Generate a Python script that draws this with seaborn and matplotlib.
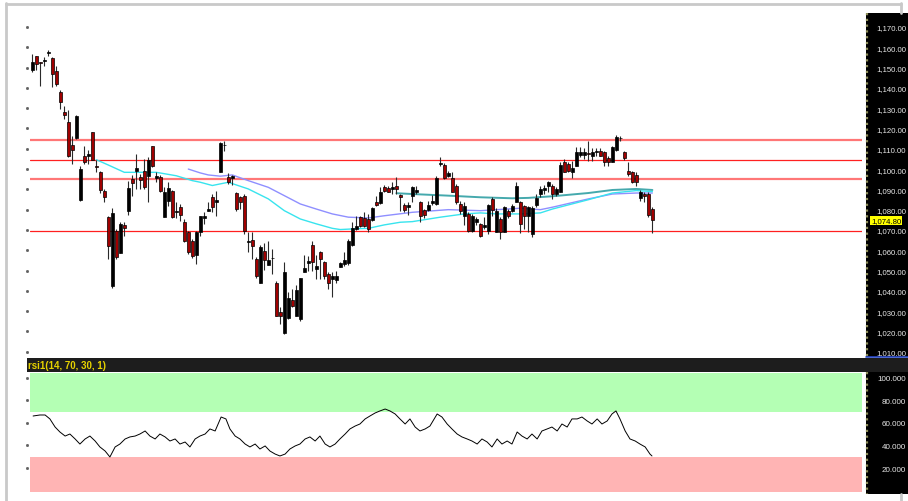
import numpy as np
import matplotlib
matplotlib.use('Agg')
import matplotlib.pyplot as plt
import seaborn as sns
from matplotlib.patches import Rectangle
from matplotlib.lines import Line2D
import matplotlib.transforms as mtransforms

opens = [
1149.0, 1155.6, 1152.6, 1153.3, 1157.2, 1154.7, 1148.5, 1137.8, 1128.3, 1123.4,
1111.9, 1115.2, 1085.0, 1106.3, 1106.6, 1118.1, 1101.7, 1098.4, 1089.4, 1076.3,
1042.6, 1069.7, 1058.7, 1072.2, 1079.5, 1095.1, 1099.1, 1096.0, 1098.9, 1096.5,
1111.2, 1095.5, 1096.0, 1076.3, 1084.5, 1089.4, 1078.7, 1081.2, 1074.1, 1069.2,
1064.8, 1057.7, 1069.2, 1075.8, 1079.2, 1086.1, 1083.9, 1098.7, 1111.7, 1096.0,
1095.5, 1088.2, 1086.1, 1086.6, 1063.9, 1065.2, 1055.7, 1043.9, 1059.8, 1052.7,
1056.1, 1043.9, 1029.7, 1019.2, 1026.5, 1035.7, 1027.8, 1026.1, 1049.4, 1053.7,
1062.6, 1050.8, 1059.3, 1054.4, 1048.3, 1045.8, 1045.5, 1051.6, 1053.2, 1053.7,
1062.6, 1070.5, 1076.2, 1075.7, 1075.4, 1075.1, 1083.9, 1083.3, 1091.0, 1090.5,
1090.2, 1091.5, 1087.2, 1082.3, 1081.1, 1086.9, 1088.5, 1083.9, 1080.0, 1080.0,
1083.3, 1082.8, 1102.4, 1102.0, 1096.4, 1095.4, 1091.8, 1082.8, 1077.1, 1077.9,
1069.7, 1073.8, 1073.0, 1071.3, 1069.7, 1085.3, 1069.2, 1075.4, 1069.2, 1079.1,
1079.5, 1084.0, 1084.0, 1081.7, 1077.1, 1068.1, 1082.3, 1087.8, 1089.9, 1091.9,
1091.9, 1087.8, 1088.9, 1103.7, 1102.5, 1098.8, 1101.7, 1107.0, 1107.0, 1107.6,
1106.6, 1108.6, 1109.1, 1108.3, 1105.3, 1103.7, 1109.6, 1115.1, 1108.6, 1099.2,
1098.4, 1097.1, 1085.6, 1087.7, 1087.7, 1080.4]

closes = [
1152.9, 1151.8, 1152.3, 1153.6, 1157.7, 1146.9, 1141.9, 1132.9, 1126.7, 1106.6,
1109.6, 1126.3, 1100.1, 1103.3, 1107.4, 1104.7, 1101.2, 1089.7, 1086.1, 1062.0,
1078.4, 1056.5, 1073.0, 1071.0, 1090.5, 1093.2, 1100.4, 1094.6, 1091.4, 1104.7,
1101.7, 1096.5, 1089.4, 1088.6, 1090.9, 1076.3, 1079.5, 1077.4, 1064.8, 1059.0,
1057.4, 1069.2, 1076.7, 1077.1, 1080.4, 1081.2, 1084.7, 1112.9, 1112.1, 1093.5,
1096.8, 1080.4, 1083.6, 1069.6, 1064.7, 1061.9, 1047.1, 1061.4, 1055.4, 1055.4,
1056.0, 1027.8, 1027.8, 1049.4, 1036.3, 1032.7, 1040.6, 1046.2, 1051.1, 1054.9,
1054.4, 1052.1, 1055.7, 1047.5, 1043.9, 1047.1, 1047.1, 1053.7, 1055.4, 1064.7,
1070.8, 1071.8, 1071.8, 1071.8, 1070.5, 1080.6, 1082.3, 1088.5, 1089.3, 1088.9,
1091.0, 1090.2, 1086.1, 1080.0, 1082.3, 1091.0, 1089.8, 1076.7, 1077.4, 1082.3,
1084.4, 1095.4, 1102.6, 1095.4, 1098.1, 1088.9, 1083.9, 1079.1, 1081.7, 1069.7,
1077.1, 1075.4, 1066.9, 1072.5, 1082.3, 1080.0, 1079.5, 1069.2, 1081.2, 1077.1,
1081.7, 1091.9, 1073.0, 1077.1, 1081.2, 1080.7, 1085.6, 1090.2, 1090.5, 1093.5,
1087.8, 1090.2, 1102.0, 1098.8, 1099.2, 1100.4, 1108.3, 1108.3, 1108.3, 1107.5,
1108.3, 1108.7, 1106.6, 1103.7, 1103.7, 1110.7, 1115.7, 1115.2, 1105.3, 1097.6,
1093.5, 1093.5, 1088.9, 1086.9, 1077.4, 1074.8]

highs = [
1156.7, 1155.9, 1152.9, 1155.1, 1158.8, 1155.1, 1151.0, 1139.1, 1131.3, 1129.3,
1116.5, 1126.7, 1101.7, 1111.2, 1109.4, 1118.5, 1104.7, 1099.2, 1090.2, 1077.1,
1080.7, 1070.5, 1073.8, 1074.1, 1094.3, 1097.1, 1107.4, 1097.6, 1105.0, 1105.8,
1111.6, 1098.4, 1097.1, 1091.0, 1093.8, 1089.9, 1084.0, 1082.8, 1075.4, 1069.7,
1065.6, 1069.7, 1077.1, 1079.0, 1083.6, 1087.7, 1089.4, 1113.2, 1114.0, 1097.9,
1097.1, 1088.6, 1086.9, 1087.7, 1068.8, 1069.2, 1056.5, 1062.6, 1063.6, 1064.7,
1060.6, 1045.0, 1031.9, 1054.0, 1039.3, 1040.9, 1042.9, 1046.2, 1057.7, 1057.3,
1064.7, 1057.7, 1059.8, 1054.9, 1049.1, 1049.1, 1050.0, 1054.4, 1059.0, 1065.5,
1074.1, 1076.7, 1077.0, 1078.7, 1077.9, 1081.1, 1086.9, 1091.0, 1092.1, 1091.8,
1093.8, 1095.9, 1087.7, 1083.3, 1083.6, 1091.8, 1091.8, 1084.4, 1080.3, 1084.4,
1087.2, 1096.7, 1105.8, 1103.0, 1099.2, 1098.4, 1092.6, 1084.5, 1083.7, 1078.7,
1077.9, 1076.3, 1073.5, 1076.3, 1082.8, 1086.1, 1080.7, 1076.3, 1081.7, 1080.4,
1082.8, 1093.8, 1084.5, 1082.3, 1081.7, 1081.7, 1087.8, 1091.9, 1092.2, 1094.3,
1092.7, 1091.0, 1103.4, 1105.0, 1103.7, 1104.2, 1110.7, 1110.7, 1110.3, 1114.0,
1110.3, 1110.3, 1110.3, 1109.1, 1106.3, 1111.6, 1116.8, 1116.2, 1109.1, 1103.7,
1099.2, 1098.8, 1089.9, 1088.9, 1088.6, 1081.2]

lows = [
1147.7, 1149.0, 1140.8, 1151.0, 1155.6, 1140.3, 1141.1, 1129.6, 1124.7, 1105.8,
1102.5, 1114.8, 1084.5, 1102.5, 1102.5, 1104.7, 1098.4, 1088.1, 1084.0, 1055.7,
1041.3, 1055.7, 1058.7, 1067.2, 1077.4, 1086.9, 1090.2, 1090.2, 1090.2, 1083.6,
1100.9, 1093.5, 1088.6, 1076.3, 1082.0, 1075.8, 1075.8, 1074.6, 1064.3, 1058.2,
1056.1, 1053.3, 1067.2, 1073.0, 1079.2, 1078.7, 1077.1, 1098.4, 1109.1, 1092.7,
1092.2, 1079.5, 1080.4, 1068.0, 1059.0, 1055.7, 1046.2, 1043.9, 1050.4, 1052.7,
1048.3, 1027.8, 1023.7, 1018.7, 1026.1, 1031.9, 1027.4, 1025.3, 1049.4, 1050.0,
1050.0, 1045.8, 1045.8, 1045.8, 1040.9, 1036.8, 1043.9, 1051.6, 1052.4, 1052.7,
1062.3, 1070.1, 1071.3, 1071.3, 1068.8, 1074.6, 1082.0, 1082.8, 1088.9, 1088.5,
1087.7, 1087.7, 1079.5, 1078.7, 1077.4, 1083.6, 1087.7, 1074.1, 1075.7, 1079.5,
1082.3, 1082.3, 1101.7, 1095.1, 1095.9, 1088.5, 1082.8, 1077.9, 1072.2, 1069.2,
1069.2, 1072.2, 1066.4, 1070.5, 1068.1, 1077.1, 1068.9, 1065.3, 1068.9, 1075.8,
1078.7, 1083.7, 1068.5, 1070.5, 1069.2, 1066.4, 1081.2, 1086.1, 1087.8, 1088.6,
1085.3, 1086.9, 1088.6, 1098.4, 1098.8, 1095.5, 1101.4, 1105.8, 1105.0, 1104.2,
1104.2, 1106.6, 1106.3, 1101.7, 1101.4, 1103.4, 1109.1, 1114.0, 1104.7, 1096.8,
1093.2, 1091.9, 1084.5, 1084.0, 1076.3, 1068.5]

# moving averages (bar index, value)
cyan_idx = [16, 19, 23, 27, 31, 36, 40, 42, 45, 49, 54, 59, 63, 67, 71, 75, 77, 80, 84, 88, 92, 95, 102, 108, 112, 116, 122, 127, 130, 139, 145, 151, 155]
cyan_val = [1104.6, 1102.0, 1098.4, 1098.4, 1098.4, 1096.7, 1094.3, 1093.5, 1091.9, 1093.5, 1090.2, 1085.3, 1079.5, 1075.4, 1073.0, 1070.8, 1070.2, 1070.5, 1070.8, 1072.5, 1073.8, 1074.1, 1076.3, 1077.9, 1078.4, 1077.9, 1077.9, 1078.4, 1080.3, 1084.9, 1088.2, 1089.4, 1088.9]
blue_idx = [39, 42, 44, 47, 50, 54, 59, 63, 67, 71, 75, 79, 84, 88, 95, 104, 112, 122, 127, 130, 139, 145, 151, 155]
blue_val = [1100.0, 1098.1, 1097.1, 1096.5, 1097.1, 1094.3, 1091.0, 1086.9, 1082.8, 1080.3, 1077.9, 1076.3, 1075.9, 1077.0, 1078.7, 1080.0, 1079.5, 1080.7, 1080.0, 1081.2, 1085.3, 1087.7, 1088.2, 1088.2]
teal_idx = [91, 95, 104, 112, 120, 124, 130, 139, 145, 151, 155]
teal_val = [1088.1, 1087.7, 1086.9, 1086.1, 1085.6, 1085.8, 1086.6, 1088.2, 1089.7, 1090.2, 1089.7]

# horizontal levels
levels_light = [1114.3, 1095.1]
levels_solid = [1104.3, 1069.4]
last_price = 1074.80

price_ticks = list(range(1010, 1171, 10))
rsi_ticks = [20, 40, 60, 80, 100]
rsi_title = "rsi1(14, 70, 30, 1)"

rsi_idx = [0.2, 1.9, 3.2, 4.4, 5.7, 6.9, 8.2, 9.4, 10.7, 11.9, 13.2, 14.4, 15.7, 16.9, 18.2, 19.4, 20.7, 21.9, 23.2, 24.4,
           25.7, 26.9, 28.2, 29.4, 30.7, 31.9, 33.2, 34.4, 35.7, 36.9, 38.2, 39.4, 40.7, 41.9, 43.2, 44.4, 45.7, 47.2, 48.4, 49.4,
           50.7, 51.9, 53.2, 54.4, 55.7, 56.9, 58.2, 59.4, 60.7, 61.9, 63.2, 64.4, 65.7, 66.9, 68.2, 69.4, 70.7, 71.9, 73.2, 74.4,
           75.7, 76.9, 78.2, 79.4, 80.7, 81.9, 83.2, 84.4, 85.7, 86.9, 88.2, 89.4, 90.7, 91.9, 93.2, 94.4, 95.7, 96.9, 98.2, 99.4,
           101.2, 102.4, 103.7, 104.9, 106.2, 107.4, 108.7, 109.9, 111.2, 112.4, 113.7, 114.9, 116.2, 117.4, 118.7, 119.9, 121.2, 122.4, 123.7, 124.9,
           126.2, 127.4, 128.7, 129.9, 131.2, 132.4, 133.7, 134.9, 136.2, 137.4, 138.7, 139.9, 141.2, 142.4, 143.7, 144.9, 145.9, 146.9, 148.2, 149.4,
           150.7, 151.9, 153.2, 154.4, 154.9]
rsi_val = [66.2, 67.1, 67.1, 63.6, 56.4, 52.0, 48.4, 50.2, 45.8, 41.3, 45.8, 48.4, 44.0, 38.7, 35.1, 29.8, 38.7, 41.3, 45.8, 47.6,
           48.4, 50.2, 52.9, 48.4, 45.8, 50.2, 47.6, 44.0, 45.8, 41.3, 43.1, 38.7, 45.8, 48.4, 50.2, 54.7, 52.9, 65.3, 63.6, 54.7,
           48.4, 45.8, 41.3, 38.7, 41.3, 36.9, 39.6, 35.1, 32.4, 30.7, 32.4, 36.9, 39.6, 41.3, 45.8, 47.6, 44.0, 48.4, 41.3, 38.7,
           41.3, 45.8, 50.2, 54.7, 57.3, 59.1, 63.6, 66.2, 68.9, 70.7, 72.4, 70.7, 68.0, 63.6, 59.1, 63.6, 56.4, 52.9, 54.7, 57.3,
           68.0, 65.3, 59.1, 54.7, 50.2, 47.6, 45.8, 44.0, 41.3, 45.8, 43.1, 38.7, 45.8, 41.3, 44.0, 41.3, 52.0, 48.4, 45.8, 50.2,
           45.8, 52.9, 54.7, 56.4, 52.9, 59.1, 56.4, 63.6, 63.6, 65.3, 61.8, 59.1, 63.6, 59.1, 61.8, 68.0, 70.7, 63.6, 52.9, 45.8,
           44.0, 41.3, 38.7, 32.4, 30.7]

# ---------------------------------------------------------------------------
sns.set_style('white')
plt.rcParams['font.family'] = ['Liberation Sans', 'DejaVu Sans']

W, H = 908, 502
fig = plt.figure(figsize=(W / 100, H / 100), dpi=100)
fig.patch.set_facecolor('white')


def fx(px):
    return px / W


def fy(py):
    return 1 - py / H


def frect(x0, y0, x1, y1, color, z=-5):
    fig.add_artist(Rectangle((fx(x0), fy(y1)), fx(x1) - fx(x0), fy(y0) - fy(y1),
                             transform=fig.transFigure, facecolor=color, edgecolor='none', zorder=z))


def fline(x0, y0, x1, y1, color, lw, **kw):
    fig.add_artist(Line2D([fx(x0), fx(x1)], [fy(y0), fy(y1)], transform=fig.transFigure,
                          color=color, lw=lw, **kw))


# outer frame
fline(6, 4, 6, 502, '#c9c9c9', 2.0)
fline(6, 4.5, 901, 4.5, '#c9c9c9', 2.0)
fline(900.5, 4, 900.5, 14, '#c9c9c9', 2.0)
fline(900.5, 495, 900.5, 502, '#c9c9c9', 2.0)

# black axis panels and header bar
frect(866, 14, 908, 357.5, 'black')
frect(866, 373, 908, 495, 'black')
frect(27, 358.5, 908, 373, '#1d1d1d')
fline(866, 357.8, 908, 357.8, '#2848c8', 1.2)
fig.text(fx(28), fy(366), rsi_title, color='#e6d200', fontsize=7, fontweight='bold', va='center', ha='left')
# dotted tick columns
fline(867, 14, 867, 357, '#8c8c58', 1.6, ls=(0, (1, 1.6)))
fline(867, 373, 867, 495, '#8c8c58', 1.6, ls=(0, (1, 1.6)))

XL = (-0.575, 207.4)

# ---------------- price panel ----------------
ax = fig.add_axes([fx(30), fy(358), (862 - 30) / W, (358 - 14) / H])
ax.set_facecolor('white')
idx = np.arange(len(closes))
o = np.array(opens)
c = np.array(closes)
hi = np.array(highs)
lo = np.array(lows)
up = c >= o
ax.vlines(idx, lo, hi, color='#2a2a2a', lw=0.8, zorder=3)
body_bottom = np.minimum(o, c)
body_h = np.maximum(np.abs(c - o), 0.35)
colors = np.where(up, '#000000', '#a00000')
ax.bar(idx, body_h, bottom=body_bottom, width=0.62, color=colors, edgecolor='black', linewidth=0.5, zorder=4)

for lv in levels_light:
    ax.axhline(lv, color='#ff4a4a', lw=1.6, alpha=0.75, zorder=2)
for lv in levels_solid:
    ax.axhline(lv, color='#ff2020', lw=0.9, zorder=2)

sns.lineplot(x=blue_idx, y=blue_val, ax=ax, color='#8f8fff', lw=1.0, zorder=2)
sns.lineplot(x=teal_idx, y=teal_val, ax=ax, color='#45a9ad', lw=1.4, zorder=2)
sns.lineplot(x=cyan_idx, y=cyan_val, ax=ax, color='#38e4ee', lw=1.0, zorder=2)

ax.set_xlim(*XL)
ax.set_ylim(1007.4, 1176.9)
for s in ax.spines.values():
    s.set_visible(False)
ax.set_xticks([])
ax.set_xlabel('')
ax.set_ylabel('')
ax.set_yticks(price_ticks)
ax.set_yticklabels([f"{v:,.2f}" for v in price_ticks])
ax.yaxis.tick_right()
ax.tick_params(axis='y', length=0, pad=(876 - 862) * 0.72, labelsize=5.6, labelcolor='#e8e8e8')
bt = mtransforms.blended_transform_factory(ax.transAxes, ax.transData)
ax.plot([-0.004] * len(price_ticks), price_ticks, ls='none', marker='s', ms=1.0,
        color='#606060', transform=bt, clip_on=False)
ax.text(1 + (871 - 862) / 832, last_price, f"{last_price:,.2f}", transform=bt, fontsize=5.6,
        color='black', va='center', ha='left', clip_on=False, zorder=10,
        bbox=dict(boxstyle='square,pad=0.15', fc='#ffff00', ec='none'))

# ---------------- RSI panel ----------------
ax2 = fig.add_axes([fx(30), fy(494), (862 - 30) / W, (494 - 374) / H])
ax2.set_facecolor('white')
RY = (-2.2, 104.4)
ax2.axhspan(70, RY[1], color='#b4ffb4', lw=0, zorder=0)
ax2.axhspan(-1.3, 30, color='#ffb4b4', lw=0, zorder=0)
sns.lineplot(x=rsi_idx, y=rsi_val, ax=ax2, color='black', lw=0.7, zorder=3)
ax2.set_xlim(*XL)
ax2.set_ylim(*RY)
for s in ax2.spines.values():
    s.set_visible(False)
ax2.set_xticks([])
ax2.set_xlabel('')
ax2.set_ylabel('')
ax2.set_yticks(rsi_ticks)
ax2.set_yticklabels([f"{v:.3f}" for v in rsi_ticks])
ax2.yaxis.tick_right()
ax2.tick_params(axis='y', length=0, pad=(906 - 862) * 0.72, labelsize=5.8, labelcolor='#e8e8e8')
for lab in ax2.get_yticklabels():
    lab.set_horizontalalignment('right')
bt2 = mtransforms.blended_transform_factory(ax2.transAxes, ax2.transData)
ax2.plot([-0.004] * len(rsi_ticks), rsi_ticks, ls='none', marker='s', ms=1.0,
         color='#606060', transform=bt2, clip_on=False)

fig.savefig('out.png', dpi=100, facecolor='white')
